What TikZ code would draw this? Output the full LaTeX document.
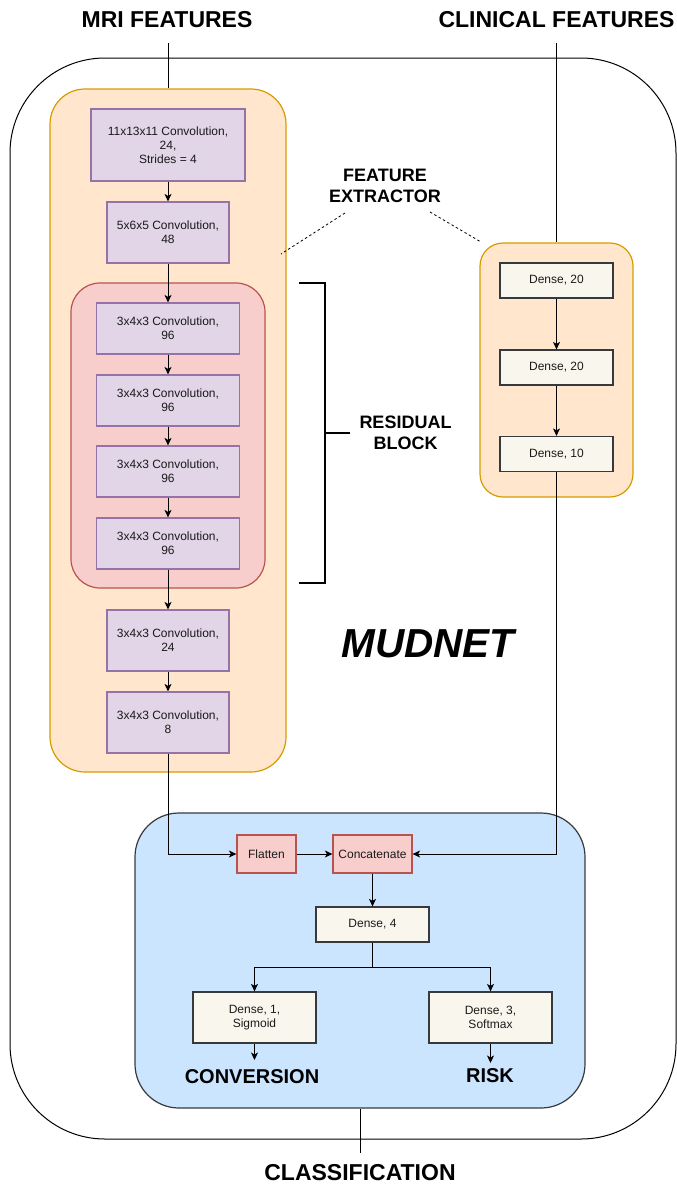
\documentclass[tikz,border=0pt]{standalone}
\usepackage{fontspec}
\setmainfont{Liberation Sans}
\usetikzlibrary{arrows.meta}
\definecolor{orfill}{HTML}{FFE6CC}
\definecolor{orline}{HTML}{D79B00}
\definecolor{cvfill}{HTML}{E1D5E7}
\definecolor{cvline}{HTML}{9673A6}
\definecolor{rdfill}{HTML}{F8CECC}
\definecolor{rdline}{HTML}{B85450}
\definecolor{dnfill}{HTML}{F9F7ED}
\definecolor{dnline}{HTML}{36393D}
\definecolor{blfill}{HTML}{CCE5FF}
\definecolor{txt}{HTML}{1A1A1A}
\begin{document}
\begin{tikzpicture}[x=1pt,y=-1pt,
  ln/.style={line width=1pt, draw=black},
  arr/.style={ln, -{Stealth[length=7.5pt,width=7pt,inset=2pt]}},
  boxtxt/.style={inner sep=0pt, align=center, text=txt, font=\fontsize{12}{14}\selectfont},
  conv/.style={boxtxt, draw=cvline, fill=cvfill, line width=1.2pt},
  dense/.style={boxtxt, draw=dnline, fill=dnfill, line width=1.2pt},
  cat/.style={boxtxt, draw=rdline, fill=rdfill, line width=1.2pt},
  group/.style={inner sep=0pt, line width=1.2pt},
  title/.style={font=\fontsize{23}{27}\bfseries\selectfont, inner sep=0pt, align=center},
  label/.style={font=\fontsize{18}{21}\bfseries\selectfont, inner sep=0pt, align=center},
  outlabel/.style={font=\fontsize{20}{24}\bfseries\selectfont, inner sep=0pt, align=center},
  dots/.style={line width=0.8pt, dash pattern=on 2.5pt off 2.5pt},
  brk/.style={line width=2pt}
]
\useasboundingbox (0,0) rectangle (677,1186);

% outer container
\node[group, draw=black, line width=1pt, rounded corners=95pt, minimum width=666pt, minimum height=1081pt] (outer) at (343,598.5) {};

% left feature extractor
\node[group, draw=orline, fill=orfill, rounded corners=35pt, minimum width=236pt, minimum height=683pt] (lor) at (168,430.5) {};
\node[group, draw=rdline, fill=rdfill, rounded corners=29pt, minimum width=194pt, minimum height=305pt] (res) at (168,435.5) {};

% right feature extractor
\node[group, draw=orline, fill=orfill, rounded corners=23pt, minimum width=153pt, minimum height=254pt] (ror) at (556.5,370) {};

% classification block
\node[group, draw=dnline, fill=blfill, rounded corners=44pt, minimum width=450pt, minimum height=295pt] (blue) at (360,960.5) {};

% conv nodes
\node[conv, minimum width=154pt, minimum height=72pt] (c1) at (168,145) {11x13x11 Convolution,\\24,\\Strides = 4};
\node[conv, minimum width=122pt, minimum height=61pt] (c2) at (168,232.5) {5x6x5 Convolution,\\48};
\node[conv, minimum width=143pt, minimum height=51pt] (r1) at (168,328.5) {3x4x3 Convolution,\\96};
\node[conv, minimum width=143pt, minimum height=51pt] (r2) at (168,400.5) {3x4x3 Convolution,\\96};
\node[conv, minimum width=143pt, minimum height=51pt] (r3) at (168,471.5) {3x4x3 Convolution,\\96};
\node[conv, minimum width=143pt, minimum height=51pt] (r4) at (168,543.5) {3x4x3 Convolution,\\96};
\node[conv, minimum width=122pt, minimum height=61pt] (c5) at (168,640.5) {3x4x3 Convolution,\\24};
\node[conv, minimum width=122pt, minimum height=61pt] (c6) at (168,722.5) {3x4x3 Convolution,\\8};

% dense nodes right
\node[dense, minimum width=113pt, minimum height=35pt] (d1) at (556.5,280.5) {Dense, 20};
\node[dense, minimum width=113pt, minimum height=35pt] (d2) at (556.5,367.5) {Dense, 20};
\node[dense, minimum width=113pt, minimum height=35pt] (d3) at (556.5,454) {Dense, 10};

% classification nodes
\node[cat, minimum width=59pt, minimum height=38pt] (flat) at (266.5,854) {Flatten};
\node[cat, minimum width=79pt, minimum height=38pt] (conc) at (372.5,854) {Concatenate};
\node[dense, minimum width=113pt, minimum height=35pt] (d4) at (372.5,924.5) {Dense, 4};
\node[dense, minimum width=123pt, minimum height=51pt] (o1) at (254.5,1017.5) {Dense, 1,\\Sigmoid};
\node[dense, minimum width=123pt, minimum height=51pt] (o2) at (490.5,1017.5) {Dense, 3,\\Softmax};

% texts
\node[title] (mri) at (167,20) {MRI FEATURES};
\node[title] (clin) at (556.5,20) {CLINICAL FEATURES};
\node[title] (cls) at (360,1173) {CLASSIFICATION};
\node[label] (fe) at (385,186) {FEATURE\\EXTRACTOR};
\node[label] (rb) at (405.5,433) {RESIDUAL\\BLOCK};
\node[font=\fontsize{40.5}{46}\bfseries\itshape\selectfont, inner sep=0pt] (mud) at (428,643.5) {MUDNET};
\node[outlabel] (conv) at (252,1077) {CONVERSION};
\node[outlabel] (risk) at (490,1076) {RISK};

% coordinates
\coordinate (mriL) at (168,43);
\coordinate (clinL) at (556.5,43);
\coordinate (clsL) at (360,1153);
\coordinate (o1e) at (254.5,1060);
\coordinate (o2e) at (490.5,1063);
\coordinate (feLa) at (345,213);
\coordinate (feLb) at (281,254);
\coordinate (feRa) at (430,212);
\coordinate (feRb) at (481,242);
\coordinate (bt1) at (299,283);
\coordinate (bt2) at (325,283);
\coordinate (bb2) at (325,583);
\coordinate (bb1) at (299,583);
\coordinate (bm1) at (325,433);
\coordinate (bm2) at (350,433);

% input lines
\draw[ln] (mriL) -- (lor.north);
\draw[ln] (clinL) -- (ror.north);

% left chain
\draw[arr] (c1) -- (c2);
\draw[arr] (c2) -- (r1);
\draw[arr] (r1) -- (r2);
\draw[arr] (r2) -- (r3);
\draw[arr] (r3) -- (r4);
\draw[arr] (r4) -- (c5);
\draw[arr] (c5) -- (c6);

% right chain
\draw[arr] (d1) -- (d2);
\draw[arr] (d2) -- (d3);

% merge
\draw[arr] (c6.south) |- (flat.west);
\draw[arr] (d3.south) |- (conc.east);
\draw[arr] (flat) -- (conc);
\draw[arr] (conc) -- (d4);
\draw[arr] (d4.south) -- ++(0,25) -| (o1.north);
\draw[arr] (d4.south) -- ++(0,25) -| (o2.north);
\draw[arr] (o1.south) -- (o1e);
\draw[arr] (o2.south) -- (o2e);
\draw[ln] (blue.south) -- (clsL);

% dotted pointers
\draw[dots] (feLa) -- (feLb);
\draw[dots] (feRa) -- (feRb);

% bracket
\draw[brk] (bt1) -- (bt2) -- (bb2) -- (bb1);
\draw[brk] (bm1) -- (bm2);
\end{tikzpicture}
\end{document}
